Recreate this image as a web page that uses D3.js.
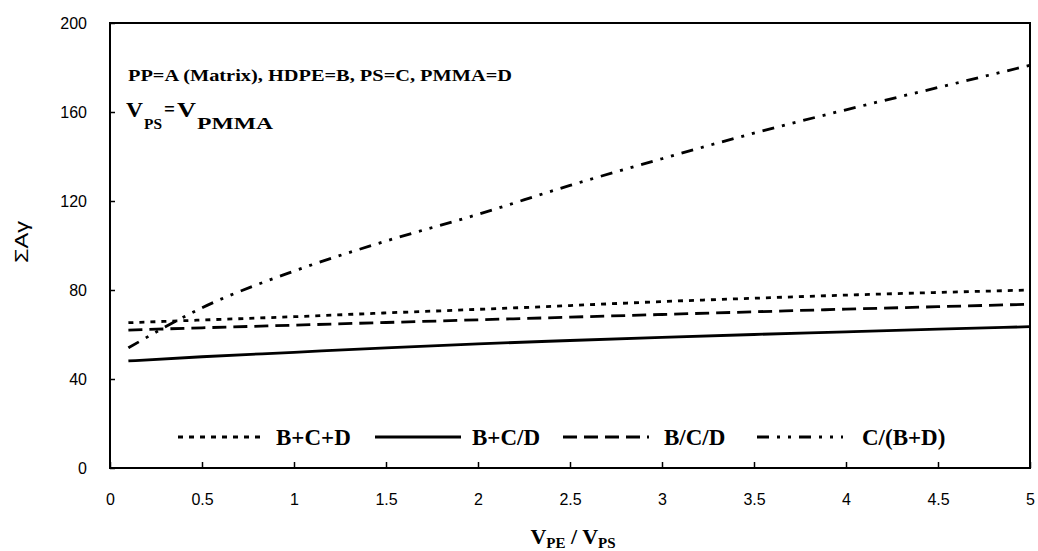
<!DOCTYPE html>
<html>
<head>
<meta charset="utf-8">
<script src="https://cdn.jsdelivr.net/npm/d3@7"></script>
<style>
  html, body { margin: 0; padding: 0; background: #fff; }
  svg { display: block; }
</style>
</head>
<body>
<svg id="chart" width="1038" height="551"></svg>
<script>
// ---- data ----
const xValues = [0.1, 0.5, 1, 1.5, 2, 2.5, 3, 3.5, 4, 4.5, 5];
const seriesNames = ["B+C+D", "B+C/D", "B/C/D", "C/(B+D)"];
const bcdValues     = [65.3, 66.5, 68.0, 69.7, 71.3, 73.0, 74.8, 76.3, 77.7, 78.9, 80.0];
const bcSlashD      = [48.1, 50.0, 52.0, 54.0, 55.8, 57.3, 58.7, 60.0, 61.2, 62.4, 63.5];
const bSlashCSlashD = [62.0, 63.0, 64.2, 65.4, 66.6, 67.8, 69.0, 70.2, 71.4, 72.5, 73.6];
const cOverBD       = [54.0, 72.0, 88.5, 102.0, 114.0, 127.0, 139.0, 150.5, 161.0, 171.0, 181.0];
const xTicks = [0, 0.5, 1, 1.5, 2, 2.5, 3, 3.5, 4, 4.5, 5];
const xTickLabels = ["0", "0.5", "1", "1.5", "2", "2.5", "3", "3.5", "4", "4.5", "5"];
const yTicks = [0, 40, 80, 120, 160, 200];

// ---- styles ----
const dashStyles = ["5,6", null, "14,7", "12,8,3,8,3,8"];

const svg = d3.select("#chart");
const x = d3.scaleLinear().domain([0, 5]).range([110, 1030]);
const y = d3.scaleLinear().domain([0, 200]).range([468, 23]);

const seriesValues = [bcdValues, bcSlashD, bSlashCSlashD, cOverBD];
const sans = "Liberation Sans, Arial, sans-serif";
const serif = "Liberation Serif, Times New Roman, serif";

// frame
svg.append("rect")
  .attr("x", x(0)).attr("y", y(200))
  .attr("width", x(5) - x(0)).attr("height", y(0) - y(200))
  .attr("fill", "none").attr("stroke", "#000").attr("stroke-width", 2);

// x axis (ticks inside)
const xAxis = d3.axisBottom(x).tickValues(xTicks)
  .tickFormat((d, i) => xTickLabels[i]).tickSize(-6).tickPadding(26);
const gx = svg.append("g").attr("transform", `translate(0,${y(0)})`).call(xAxis);
gx.select(".domain").remove();
gx.selectAll("line").attr("stroke-width", 1.5);
gx.selectAll("text").attr("font-family", sans)
  .attr("font-size", 16).attr("fill", "#000");

// y axis (ticks inside)
const yAxis = d3.axisLeft(y).tickValues(yTicks).tickSize(-5).tickPadding(23);
const gy = svg.append("g").attr("transform", `translate(${x(0)},0)`).call(yAxis);
gy.select(".domain").remove();
gy.selectAll("line").attr("stroke-width", 1.5);
gy.selectAll("text").attr("font-family", sans)
  .attr("font-size", 16).attr("fill", "#000");

// lines
const line = d3.line().x((d, i) => x(xValues[i])).y(d => y(d)).curve(d3.curveMonotoneX);
seriesValues.forEach((vals, k) => {
  svg.append("path").datum(vals)
    .attr("d", line)
    .attr("fill", "none").attr("stroke", "#000")
    .attr("stroke-width", 2.8)
    .attr("stroke-dasharray", dashStyles[k]);
});

// legend
const legendY = 437;
const legendSampleX = [178, 375, 563, 757];
const legendSampleW = 86;
const legendTextX = [276, 472, 664, 862];
seriesNames.forEach((name, k) => {
  svg.append("line")
    .attr("x1", legendSampleX[k]).attr("x2", legendSampleX[k] + legendSampleW)
    .attr("y1", legendY).attr("y2", legendY)
    .attr("stroke", "#000").attr("stroke-width", 2.8)
    .attr("stroke-dasharray", dashStyles[k]);
  svg.append("text").attr("x", legendTextX[k]).attr("y", legendY + 8)
    .attr("font-family", serif)
    .attr("font-weight", "bold").attr("font-size", 23).text(name);
});

// annotations
svg.append("text").attr("x", 128).attr("y", 81)
  .attr("font-family", serif).attr("font-weight", "bold").attr("font-size", 17)
  .attr("textLength", 384).attr("lengthAdjust", "spacingAndGlyphs")
  .text("PP=A (Matrix), HDPE=B, PS=C, PMMA=D");

function ann(txt, px, py, size, len) {
  svg.append("text").attr("x", px).attr("y", py)
    .attr("font-family", serif).attr("font-weight", "bold").attr("font-size", size)
    .attr("textLength", len).attr("lengthAdjust", "spacingAndGlyphs")
    .text(txt);
}
ann("V", 126, 117, 22, 17);
ann("PS", 144, 129, 15, 18);
ann("=", 164, 116, 20, 11);
ann("V", 177, 117, 22, 19);
ann("PMMA", 197, 129, 16, 76);

// x axis title
const xt = svg.append("text").attr("x", 573).attr("y", 544)
  .attr("text-anchor", "middle")
  .attr("font-family", serif).attr("font-weight", "bold").attr("font-size", 22);
xt.append("tspan").text("V");
xt.append("tspan").attr("dy", 4).attr("font-size", 15).text("PE");
xt.append("tspan").attr("dy", -4).text(" / V");
xt.append("tspan").attr("dy", 4).attr("font-size", 15).text("PS");

// y axis title
svg.append("text")
  .attr("transform", `translate(28,242) rotate(-90)`)
  .attr("text-anchor", "middle")
  .attr("font-family", sans)
  .attr("font-size", 18)
  .attr("textLength", 42).attr("lengthAdjust", "spacingAndGlyphs")
  .text("ΣAγ");
</script>
</body>
</html>
